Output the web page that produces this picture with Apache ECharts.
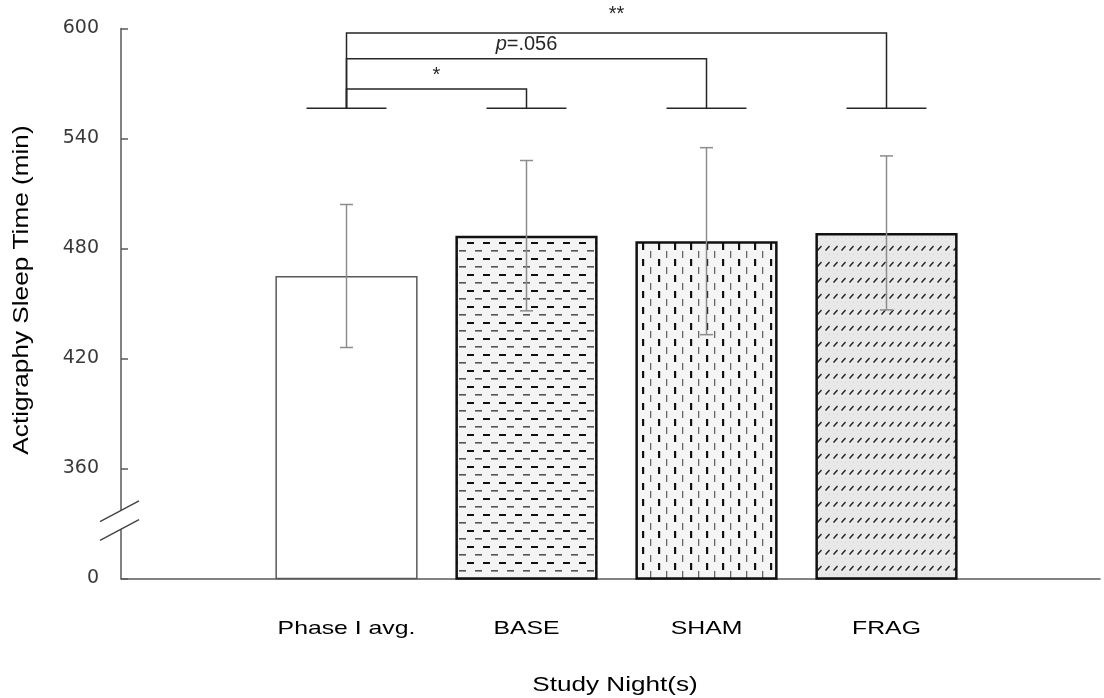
<!DOCTYPE html>
<html>
<head>
<meta charset="utf-8">
<script src="https://cdn.jsdelivr.net/npm/echarts@6/dist/echarts.min.js"></script>
<style>
  html, body { margin: 0; padding: 0; background: #fff; }
  #chart { width: 1104px; height: 698px; }
</style>
</head>
<body>
<div id="chart"></div>
<script>
// data
const categories = ['Phase I avg.', 'BASE', 'SHAM', 'FRAG'];
const meanSleep = [465, 487, 484, 488.5];
const sdSleep = [39, 41, 51, 42];

// broken y axis: the bottom tick stands for 0
const yTickValues = [300, 360, 420, 480, 540, 600];
const yTickLabels = ['0', '360', '420', '480', '540', '600'];

// significance brackets (bar index -> bar index)
const bracketFrom = [0, 0, 0];
const bracketTo = [1, 2, 3];
const bracketTop = [567, 583.5, 597.5];
const bracketLabels = ['*', '{i|p}=.056', '**'];
const footLevel = 556.5;

const AXIS_GREY = '#595959';
const LABEL_FONT = 'Liberation Sans';
// the source figure's text is drawn wider than Arial, so stretch it a bit
const TEXT_STRETCH = 1.34;
// extra px gap between each bracket and its label
const labelGap = [4, 4, 9];

// small fill textures for the patterned bars
function makePattern(kind) {
  const c = document.createElement('canvas');
  const ctx = c.getContext('2d');
  if (kind === 'hdash') {
    c.width = 16; c.height = 16;
    ctx.fillStyle = '#f4f4f4';
    ctx.fillRect(0, 0, 16, 16);
    ctx.fillStyle = '#111';
    ctx.fillRect(3, 2, 7, 2);
    ctx.fillStyle = '#555';
    ctx.fillRect(11, 10, 5, 1.6);
    ctx.fillRect(0, 10, 2, 1.6);
  } else if (kind === 'vdash') {
    c.width = 16; c.height = 16;
    ctx.fillStyle = '#f5f5f5';
    ctx.fillRect(0, 0, 16, 16);
    ctx.fillStyle = '#111';
    ctx.fillRect(2, 3, 2.2, 7);
    ctx.fillStyle = '#666';
    ctx.fillRect(10, 11, 1.3, 5);
    ctx.fillRect(10, 0, 1.3, 2);
  } else {
    c.width = 8; c.height = 16;
    ctx.fillStyle = '#e9e9e9';
    ctx.fillRect(0, 0, 8, 16);
    ctx.fillStyle = '#d2d2d2';
    ctx.fillRect(2, 1, 1, 1);
    ctx.fillRect(6, 4, 1, 1);
    ctx.fillRect(1, 13, 1, 1);
    ctx.fillRect(5, 14, 1, 1);
    ctx.strokeStyle = '#222';
    ctx.lineWidth = 1.4;
    ctx.beginPath();
    ctx.moveTo(1.5, 10.5);
    ctx.lineTo(5.5, 6);
    ctx.stroke();
  }
  return { image: c, repeat: 'repeat' };
}

const barStyles = [
  { color: '#ffffff', borderColor: AXIS_GREY, borderWidth: 1.5 },
  { color: makePattern('hdash'), borderColor: '#111', borderWidth: 2.5 },
  { color: makePattern('vdash'), borderColor: '#111', borderWidth: 2.5 },
  { color: makePattern('slash'), borderColor: '#111', borderWidth: 2.5 }
];

const chart = echarts.init(document.getElementById('chart'));

const option = {
  animation: false,
  backgroundColor: '#ffffff',
  grid: [
    { left: 121, right: 4, top: 28.5, bottom: 119.5, outerBoundsMode: 'none' },
    { left: 256.5, right: 127.5, top: 28.5, bottom: 119.5, outerBoundsMode: 'none' }
  ],
  xAxis: [
    {
      type: 'value', gridIndex: 0, min: 0, max: 1,
      axisLine: { show: true, lineStyle: { color: AXIS_GREY, width: 1.5 } },
      axisTick: { show: false }, axisLabel: { show: false }, splitLine: { show: false }
    },
    {
      type: 'category', gridIndex: 1, data: categories,
      axisLine: { show: false }, axisTick: { show: false },
      axisLabel: { show: false }
    }
  ],
  yAxis: [
    {
      type: 'value', gridIndex: 0, min: 300, max: 600, interval: 60,
      axisLine: { show: true, lineStyle: { color: AXIS_GREY, width: 1.5 } },
      axisTick: { show: true, inside: true, length: 7, lineStyle: { color: AXIS_GREY, width: 1.5 } },
      axisLabel: {
        margin: 22, color: '#3a3a3a', fontSize: 19, fontFamily: 'DejaVu Sans',
        formatter: (v) => yTickLabels[yTickValues.indexOf(v)]
      },
      splitLine: { show: false }
    },
    { type: 'value', gridIndex: 1, min: 300, max: 600, interval: 60, show: false }
  ],
  graphic: [
    {
      type: 'text', x: 22, y: 290, rotation: Math.PI / 2, scaleX: 1.19,
      style: {
        text: 'Actigraphy Sleep Time (min)', fill: '#000',
        fontSize: 22, fontFamily: LABEL_FONT, align: 'center', verticalAlign: 'middle'
      }
    },
    {
      type: 'text', x: 615, y: 686, scaleX: TEXT_STRETCH,
      style: {
        text: 'Study Night(s)', fill: '#000',
        fontSize: 19.5, fontFamily: LABEL_FONT, align: 'center', verticalAlign: 'middle'
      }
    }
  ],
  series: [
    {
      type: 'bar', xAxisIndex: 1, yAxisIndex: 1, barWidth: '79%',
      data: meanSleep.map((v, i) => ({ value: v, itemStyle: barStyles[i] }))
    },
    {
      // category labels under each bar
      type: 'custom', xAxisIndex: 1, yAxisIndex: 1, silent: true,
      data: categories.map((c, i) => [i, 300]),
      renderItem: (params, api) => {
        const p = api.coord([api.value(0), api.value(1)]);
        return {
          type: 'text', x: p[0], y: p[1] + 50.5, scaleX: TEXT_STRETCH,
          style: {
            text: categories[params.dataIndex], fill: '#000',
            fontSize: 18.5, fontFamily: LABEL_FONT, align: 'center', verticalAlign: 'middle'
          }
        };
      }
    },
    {
      // error bars
      type: 'custom', xAxisIndex: 1, yAxisIndex: 1, z: 5,
      data: meanSleep.map((m, i) => [i, m - sdSleep[i], m + sdSleep[i]]),
      renderItem: (params, api) => {
        const lo = api.coord([api.value(0), api.value(1)]);
        const hi = api.coord([api.value(0), api.value(2)]);
        const cap = 6.5;
        const style = { stroke: '#8c8c8c', lineWidth: 1.5 };
        return {
          type: 'group',
          children: [
            { type: 'line', shape: { x1: lo[0], y1: lo[1], x2: hi[0], y2: hi[1] }, style },
            { type: 'line', shape: { x1: lo[0] - cap, y1: lo[1], x2: lo[0] + cap, y2: lo[1] }, style },
            { type: 'line', shape: { x1: hi[0] - cap, y1: hi[1], x2: hi[0] + cap, y2: hi[1] }, style }
          ]
        };
      }
    },
    {
      // bracket feet over each bar
      type: 'custom', xAxisIndex: 1, yAxisIndex: 1, z: 6,
      data: categories.map((c, i) => [i, footLevel]),
      renderItem: (params, api) => {
        const p = api.coord([api.value(0), api.value(1)]);
        const half = api.size([1, 0])[0] * 0.222;
        return {
          type: 'line',
          shape: { x1: p[0] - half, y1: p[1], x2: p[0] + half, y2: p[1] },
          style: { stroke: '#262626', lineWidth: 1.5 }
        };
      }
    },
    {
      // significance brackets + labels
      type: 'custom', xAxisIndex: 1, yAxisIndex: 1, z: 6,
      data: bracketTop.map((t, i) => [bracketFrom[i], bracketTo[i], t, footLevel]),
      renderItem: (params, api) => {
        const a = api.coord([api.value(0), api.value(2)]);
        const b = api.coord([api.value(1), api.value(2)]);
        const aFoot = api.coord([api.value(0), api.value(3)]);
        const bFoot = api.coord([api.value(1), api.value(3)]);
        return {
          type: 'group',
          children: [
            {
              type: 'polyline',
              shape: { points: [aFoot, a, b, bFoot] },
              style: { stroke: '#262626', lineWidth: 1.5, fill: null }
            },
            {
              type: 'text',
              x: (a[0] + b[0]) / 2, y: a[1] - labelGap[params.dataIndex],
              style: {
                text: bracketLabels[params.dataIndex],
                fill: '#262626', fontSize: 20, fontFamily: LABEL_FONT,
                align: 'center', verticalAlign: 'bottom',
                rich: { i: { fontStyle: 'italic', fontSize: 20, fontFamily: LABEL_FONT, fill: '#262626' } }
              }
            }
          ]
        };
      }
    }
  ]
};

chart.setOption(option);

// axis break marks ("//") on the y axis line
const bx = chart.convertToPixel({ xAxisIndex: 0 }, 0);
const by = chart.convertToPixel({ yAxisIndex: 0 }, 332);
const slope = 0.53, half = 9.35, l = 21, r = 18;
const p1 = [bx - l, by - half + l * slope], p2 = [bx + r, by - half - r * slope];
const p3 = [bx + r, by + half - r * slope], p4 = [bx - l, by + half + l * slope];
chart.setOption({
  graphic: [
    { id: 'breakMask', type: 'polygon', z: 100, shape: { points: [p1, p2, p3, p4] }, style: { fill: '#fff' } },
    { id: 'breakA', type: 'line', z: 101, shape: { x1: p1[0], y1: p1[1], x2: p2[0], y2: p2[1] }, style: { stroke: '#404040', lineWidth: 1.3 } },
    { id: 'breakB', type: 'line', z: 101, shape: { x1: p4[0], y1: p4[1], x2: p3[0], y2: p3[1] }, style: { stroke: '#404040', lineWidth: 1.3 } }
  ]
});
</script>
</body>
</html>
